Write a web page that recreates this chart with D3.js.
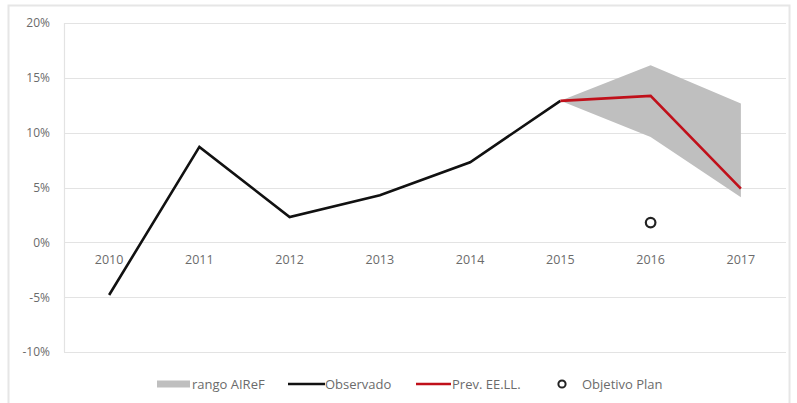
<!DOCTYPE html>
<html><head><meta charset="utf-8">
<script src="https://cdn.jsdelivr.net/npm/d3@7"></script>
<style>
body{margin:0;background:#fff;}
text{font-family:"Open Sans","Liberation Sans",sans-serif;}
</style></head>
<body><svg id="c" width="797" height="403"></svg>
<script>
const years = ["2010","2011","2012","2013","2014","2015","2016","2017"];
const observado = [-4.8, 8.7, 2.3, 4.3, 7.3, 12.9, null, null];
const prevYears = ["2015","2016","2017"];
const prevEELL = [12.9, 13.35, 4.9];
const rangoYears = ["2015","2016","2017"];
const rangoLow = [12.9, 9.6, 4.1];
const rangoHigh = [12.9, 16.15, 12.65];
const objetivoYears = ["2016"];
const objetivoPlan = [1.8];
const yTicks = [-10, -5, 0, 5, 10, 15, 20];
const legendLabels = ["rango AIReF", "Observado", "Prev. EE.LL.", "Objetivo Plan"];

const svg = d3.select("#c");
const L = 64, R = 786, T = 23, B = 352;
const x = d3.scaleBand().domain(years).range([L, R]);
const y = d3.scaleLinear().domain([-10, 20]).range([B, T]);
const cx = d => x(d) + x.bandwidth() / 2;

// outer border
svg.append("rect").attr("x", 8.5).attr("y", 5.5).attr("width", 781).attr("height", 410)
  .attr("fill", "none").attr("stroke", "#e6e6e6").attr("stroke-width", 2);

// gridlines
svg.append("g").selectAll("line").data(yTicks).join("line")
  .attr("x1", L).attr("x2", R).attr("y1", d => Math.round(y(d)) + 0.5).attr("y2", d => Math.round(y(d)) + 0.5)
  .attr("stroke", "#e3e3e3").attr("stroke-width", 1.2);
// left axis line
svg.append("line").attr("x1", L + 0.5).attr("x2", L + 0.5).attr("y1", T).attr("y2", B)
  .attr("stroke", "#e3e3e3").attr("stroke-width", 1.2);

// y axis labels
const yAxis = d3.axisLeft(y).tickValues(yTicks).tickFormat(d => d + "%").tickSize(0).tickPadding(14);
const gy = svg.append("g").attr("transform", `translate(${L},0)`).call(yAxis);
gy.select(".domain").remove();
gy.selectAll("text").attr("fill", "#6b6b6b").style("font-size", "12px")
  .style("font-family", '"Open Sans","Liberation Sans",sans-serif');

// x axis labels at y=0
const xAxis = d3.axisBottom(x).tickSize(0).tickPadding(13);
const gx = svg.append("g").attr("transform", `translate(0,${y(0)})`).call(xAxis);
gx.select(".domain").remove();
gx.selectAll("text").attr("fill", "#6b6b6b").style("font-size", "12.5px")
  .style("font-family", '"Open Sans","Liberation Sans",sans-serif');

// range area
const rangoData = rangoYears.map((d, i) => ({ year: d, lo: rangoLow[i], hi: rangoHigh[i] }));
svg.append("path").datum(rangoData)
  .attr("d", d3.area().x(d => cx(d.year)).y0(d => y(d.lo)).y1(d => y(d.hi)))
  .attr("fill", "#bfbfbf");

// observado line
const obsData = years.map((d, i) => ({ year: d, v: observado[i] })).filter(d => d.v !== null);
svg.append("path").datum(obsData)
  .attr("d", d3.line().x(d => cx(d.year)).y(d => y(d.v)))
  .attr("fill", "none").attr("stroke", "#111").attr("stroke-width", 2.6).attr("stroke-linejoin", "miter");

// prev line
const prevData = prevYears.map((d, i) => ({ year: d, v: prevEELL[i] }));
svg.append("path").datum(prevData)
  .attr("d", d3.line().x(d => cx(d.year)).y(d => y(d.v)))
  .attr("fill", "none").attr("stroke", "#c0101a").attr("stroke-width", 2.6);

// objetivo
svg.append("g").selectAll("circle").data(objetivoYears.map((d, i) => ({ year: d, v: objetivoPlan[i] })))
  .join("circle").attr("cx", d => cx(d.year)).attr("cy", d => y(d.v)).attr("r", 4.8)
  .attr("fill", "#fff").attr("stroke", "#222").attr("stroke-width", 2.2);

// legend
const ly = 384;
const lg = svg.append("g").style("font-size", "13px");
lg.append("rect").attr("x", 157).attr("y", ly - 3.5).attr("width", 33).attr("height", 7).attr("fill", "#bfbfbf");
lg.append("text").attr("x", 192).attr("y", ly + 4.5).text(legendLabels[0]).attr("fill", "#6b6b6b");
lg.append("line").attr("x1", 288).attr("x2", 325).attr("y1", ly).attr("y2", ly).attr("stroke", "#111").attr("stroke-width", 2.4);
lg.append("text").attr("x", 325).attr("y", ly + 4.5).text(legendLabels[1]).attr("fill", "#6b6b6b");
lg.append("line").attr("x1", 416).attr("x2", 451).attr("y1", ly).attr("y2", ly).attr("stroke", "#c0101a").attr("stroke-width", 2.4);
lg.append("text").attr("x", 452).attr("y", ly + 4.5).text(legendLabels[2]).attr("fill", "#6b6b6b");
lg.append("circle").attr("cx", 562).attr("cy", ly).attr("r", 3.6).attr("fill", "#fff").attr("stroke", "#222").attr("stroke-width", 2);
lg.append("text").attr("x", 582).attr("y", ly + 4.5).text(legendLabels[3]).attr("fill", "#6b6b6b");
</script></body></html>
